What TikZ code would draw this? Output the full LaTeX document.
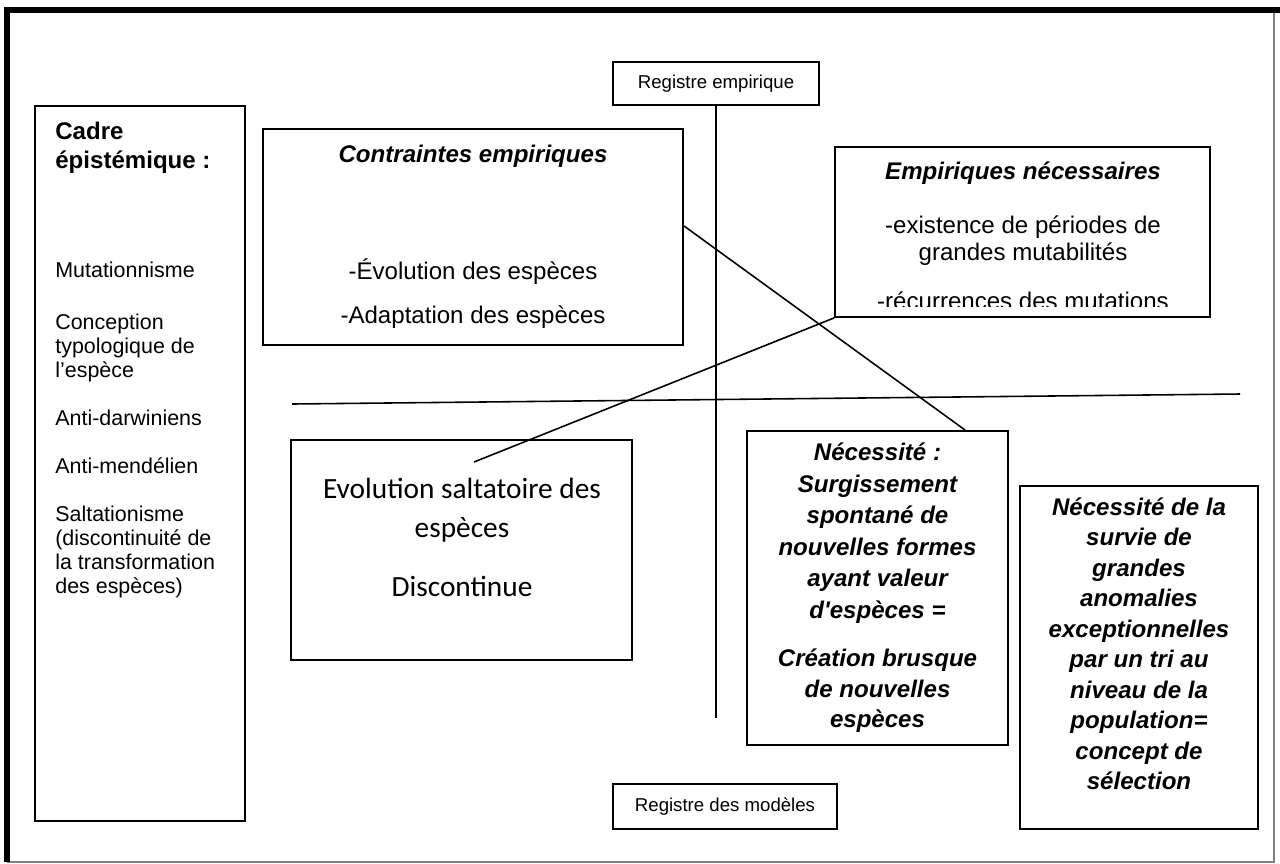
\documentclass[tikz,border=0pt]{standalone}
\usepackage{fontspec}
\setmainfont{Liberation Sans}[Ligatures=TeXOff]
\newfontfamily\calibrifont{Carlito}
\usetikzlibrary{positioning}

\begin{document}
\begin{tikzpicture}[x=0.02cm,y=-0.02cm]
	\tikzset{
	  boite/.style 2 args={draw,line width=1.1pt,inner sep=0pt,
		minimum width=#1*0.02cm,minimum height=#2*0.02cm},
	  trait/.style={line width=0.9pt},
	  gras/.style={font=\fontsize{13.7}{16}\selectfont\bfseries\itshape,inner sep=0pt,anchor=base},
	  texte/.style={font=\fontsize{13.7}{16}\selectfont,inner sep=0pt,anchor=base},
	  titre/.style={font=\fontsize{13.7}{16}\selectfont\bfseries,inner sep=0pt,anchor=base west},
	  liste/.style={font=\fontsize{12.2}{14}\selectfont,inner sep=0pt,anchor=base west},
	  petit/.style={font=\fontsize{10.6}{12}\selectfont},
	  calib/.style={font=\calibrifont\fontsize{16.7}{20}\selectfont,inner sep=0pt,anchor=base}
	}
	\useasboundingbox (0,0) rectangle (1280,863);
	%FRAME
	\draw[gray,line width=0.7pt] (7,862) -- (1274,862) -- (1274,10);
	\draw[line width=3.4pt] (7,862) -- (7,10) -- (1280,10);
	%BOXES
	\node[boite={210}{715}] (cadre) at (140,463.5) {};
	\node[boite={420}{216}] (contraintes) at (473,237) {};
	\node[boite={375}{170}] (empiriques) at (1022.5,232) {};
	\node[boite={341}{220}] (evolution) at (461.5,550) {};
	\node[boite={261}{314}] (necessite) at (877.5,588) {};
	\node[boite={238}{343}] (selection) at (1139,657.5) {};
	\node[boite={206}{43},petit,line width=0.9pt] (regemp) at (716,83.5) {Registre empirique};
	\node[boite={224}{45},petit,line width=0.9pt] (regmod) at (725,806.5) {Registre des modèles};
	%CADRE EPISTEMIQUE
	\node[titre] (cadre1) at (55,139) {Cadre};
	\node[titre] (cadre2) at (55,168) {épistémique :};
	\foreach \t/\y [count=\i] in {Mutationnisme/277,Conception/329,typologique de/353,
	  l’espèce/377,Anti-darwiniens/425,Anti-mendélien/473,Saltationisme/521,
	  {(discontinuité de}/545,la transformation/569,des espèces)/593}{
	  \node[liste] (liste\i) at (55,\y) {\t};
	}
	%CONTRAINTES
	\node[gras] (ctitre) at (473,162) {Contraintes empiriques};
	\node[texte] (c1) at (473,279) {-Évolution des espèces};
	\node[texte] (c2) at (473,323) {-Adaptation des espèces};
	%EMPIRIQUES
	\node[gras] (etitre) at (1023,179) {Empiriques nécessaires};
	\node[texte] (e1) at (1023,233) {-existence de périodes de};
	\node[texte] (e2) at (1023,260) {grandes mutabilités};
	\begin{scope}
	  \clip (836,148) rectangle (1209,306);
	  \node[texte] (e3) at (1023,309) {-récurrences des mutations};
	\end{scope}
	%EVOLUTION
	\node[calib] (ev1) at (462,498) {Evolution saltatoire des};
	\node[calib] (ev2) at (462,537) {espèces};
	\node[calib] (ev3) at (462,596) {Discontinue};
	%NECESSITE
	\foreach \t/\y [count=\i] in {Nécessité :/460,Surgissement/492,spontané de/523,
	  nouvelles formes/555,ayant valeur/586,d'espèces =/618,
	  Création brusque/666,de nouvelles/697,espèces/727}{
	  \node[gras] (nec\i) at (877.5,\y) {\t};
	}
	%SELECTION
	\foreach \t/\y [count=\i] in {Nécessité de la/515,survie de/545.5,grandes/576,
	  anomalies/606.5,exceptionnelles/637,par un tri au/667.5,niveau de la/698,
	  population=/728.5,concept de/759,sélection/789.5}{
	  \node[gras] (sel\i) at (1139,\y) {\t};
	}
	%AXES
	\coordinate (basaxe) at (716,718);
	\coordinate (gauche) at (292,404);
	\coordinate (droite) at (1240,394);
	\coordinate (pointe) at (474,462);
	\draw[trait] (regemp.south) -- (basaxe);
	\draw[trait] (gauche) -- (droite);
	%LIENS
	\draw[trait] (contraintes.3.5) -- (necessite.61.4);
	\draw[trait] (empiriques.south west) -- (pointe);
\end{tikzpicture}
\end{document}
